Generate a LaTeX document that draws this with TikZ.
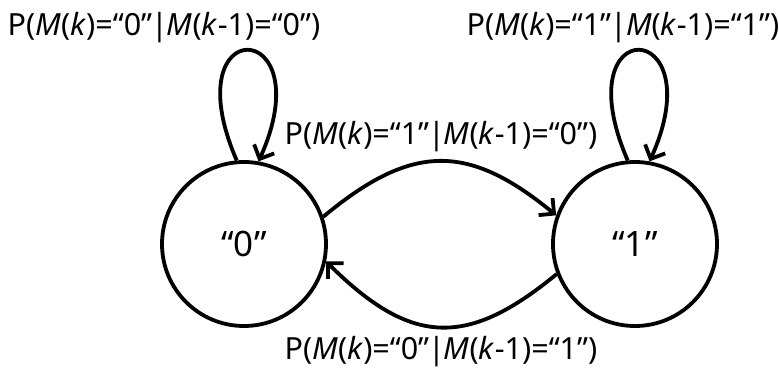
\documentclass[tikz,border=0pt]{standalone}
\usepackage{fontspec}
\setmainfont{Noto Sans}
\usetikzlibrary{arrows.meta,positioning,calc}

\newcommand{\prob}[2]{P(\textit{M}(\textit{k})=“#1”\kern-1pt|\kern-1pt\textit{M}(\textit{k}-1)=“#2”)}

\begin{document}
\begin{tikzpicture}[x=1pt,y=-1pt,
    stt/.style={circle, draw, line width=3.8pt, minimum size=164pt, inner sep=0pt, font=\fontsize{35}{40}\selectfont},
    tr/.style={-{Straight Barb[length=11pt,width=22pt]}, line width=3.8pt},
    lbl/.style={font=\fontsize{30.5}{34}\selectfont, inner sep=1pt}
]
\useasboundingbox (0,0) rectangle (779,368);
\node[stt] (s0) at (244,244) {“0”};
\node[stt] (s1) at (635,244) {“1”};
\draw[tr] (s0.95) .. controls +(-65,-150) and +(65,-145) .. (s0.80);
\draw[tr] (s1.95) .. controls +(-65,-150) and +(65,-145) .. (s1.80);
\draw[tr] (s0.19) .. controls (412,143) and (468,143) .. (s1.160);
\draw[tr] (s1.201) .. controls (468,347) and (412,347) .. (s0.348);
\node[lbl] (l00) at (164,28) {\prob{0}{0}};
\node[lbl] (l11) at (623,28) {\prob{1}{1}};
\node[lbl] (l01) at (441,137) {\prob{1}{0}};
\node[lbl] (l10) at (441,352) {\prob{0}{1}};
\end{tikzpicture}
\end{document}
